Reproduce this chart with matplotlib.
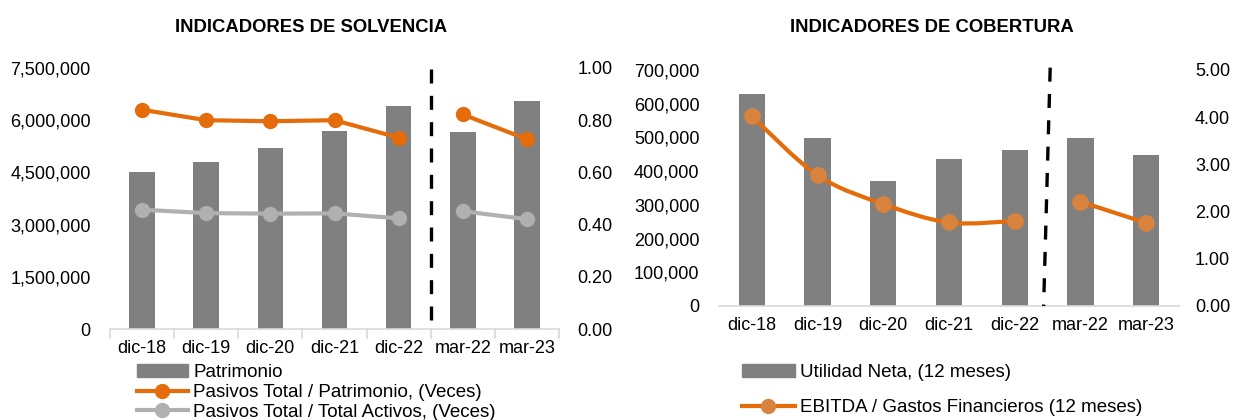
import matplotlib
matplotlib.use("Agg")
import matplotlib.pyplot as plt
import numpy as np
from matplotlib.path import Path
from matplotlib.patches import PathPatch
from matplotlib.lines import Line2D
from matplotlib.ticker import FuncFormatter

plt.rcParams['font.family'] = ['Liberation Sans', 'DejaVu Sans']

categories = ["dic-18", "dic-19", "dic-20", "dic-21", "dic-22", "mar-22", "mar-23"]

# Left chart: Solvencia
patrimonio = [4500000, 4800000, 5190000, 5690000, 6400000, 5670000, 6540000]
pasivos_patrimonio = [0.84, 0.80, 0.796, 0.80, 0.733, 0.822, 0.727]
pasivos_activos = [0.457, 0.444, 0.442, 0.443, 0.424, 0.451, 0.421]

# Right chart: Cobertura
utilidad_neta = [630000, 497000, 370000, 437000, 463000, 499000, 447000]
ebitda_gastos = [4.02, 2.77, 2.16, 1.77, 1.80, 2.21, 1.76]

left_ticks = [0, 1500000, 3000000, 4500000, 6000000, 7500000]
left_ticks2 = [0.0, 0.2, 0.4, 0.6, 0.8, 1.0]
right_ticks = [0, 100000, 200000, 300000, 400000, 500000, 600000, 700000]
right_ticks2 = [0.0, 1.0, 2.0, 3.0, 4.0, 5.0]

BAR = "#808080"
ORANGE = "#E46C0A"
LGRAY = "#B0B0B0"
MARK2 = "#D8843E"
AXC = "#D9D9D9"
FS = 13
LFS = 13.5
DASH = (0, (4.2, 3.7))

W, H = 1233, 420
fig = plt.figure(figsize=(W / 100, H / 100), dpi=100)


def ax_rect(x0, y0, x1, y1):
    return [x0 / W, 1 - y1 / H, (x1 - x0) / W, (y1 - y0) / H]


def style_axes(ax, ax2, pad2):
    for a in (ax, ax2):
        for s in a.spines.values():
            s.set_visible(False)
    ax.spines['bottom'].set_visible(True)
    ax.spines['bottom'].set_color(AXC)
    ax.spines['bottom'].set_linewidth(1.2)
    ax.tick_params(axis='y', length=0, labelsize=FS, pad=14)
    ax2.tick_params(axis='y', length=0, labelsize=FS, pad=pad2)
    ax.tick_params(axis='x', length=0, labelsize=FS, pad=8)


def smooth_path(xs, ys):
    pts = np.column_stack([xs, ys]).astype(float)
    n = len(pts)
    verts = [pts[0]]
    codes = [Path.MOVETO]
    for i in range(n - 1):
        p0 = pts[i - 1] if i > 0 else pts[i]
        p1 = pts[i]
        p2 = pts[i + 1]
        p3 = pts[i + 2] if i + 2 < n else pts[i + 1]
        c1 = p1 + (p2 - p0) / 6.0
        c2 = p2 - (p3 - p1) / 6.0
        verts += [c1, c2, p2]
        codes += [Path.CURVE4] * 3
    return Path(verts, codes)


x = np.arange(len(categories))

# ---------------- Left chart ----------------
ax = fig.add_axes(ax_rect(110, 68, 559, 329))
ax2 = ax.twinx()
ax.bar(x, patrimonio, width=0.4, color=BAR, zorder=2)
ax.set_xlim(-0.5, len(categories) - 0.5)
ax.set_ylim(0, 7500000)
ax.set_yticks(left_ticks)
ax.yaxis.set_major_formatter(FuncFormatter(lambda v, p: f"{int(v):,}"))
ax.set_xticks(x)
ax.set_xticklabels(categories)
for b in np.arange(-0.5, len(categories), 1.0):
    ax.plot([b, b], [0, -0.035], transform=ax.get_xaxis_transform(), color=AXC, lw=1.2, clip_on=False)
ax2.set_ylim(0, 1.0)
ax2.set_yticks(left_ticks2)
ax2.yaxis.set_major_formatter(FuncFormatter(lambda v, p: f"{v:.2f}"))
for seg in (slice(0, 5), slice(5, 7)):
    ax2.plot(x[seg], pasivos_patrimonio[seg], color=ORANGE, lw=3, marker='o', ms=10, zorder=3)
    ax2.plot(x[seg], pasivos_activos[seg], color=LGRAY, lw=3, marker='o', ms=10, zorder=3)
ax2.plot([4.5, 4.5], [0.995, 0.005], color='black', lw=2.4, linestyle=DASH, clip_on=False, zorder=4)
style_axes(ax, ax2, 13.5)
fig.text(311 / W, 1 - 27 / H, "INDICADORES DE SOLVENCIA", fontsize=13.3, fontweight='bold',
         ha='center', va='center')

handles_l = [
    plt.Rectangle((0, 0), 1, 1, color=BAR),
    Line2D([], [], color=ORANGE, lw=3, marker='o', ms=10),
    Line2D([], [], color=LGRAY, lw=3, marker='o', ms=10),
]
labels_l = ["Patrimonio", "Pasivos Total / Patrimonio, (Veces)", "Pasivos Total / Total Activos, (Veces)"]
fig.legend(handles_l, labels_l, loc='upper left', bbox_to_anchor=(137 / W, 1 - 364 / H),
           frameon=False, fontsize=LFS, handlelength=2.7, handletextpad=0.3,
           labelspacing=0.15, borderaxespad=0, borderpad=0)

# ---------------- Right chart ----------------
bx = fig.add_axes(ax_rect(719, 70, 1179, 306))
bx2 = bx.twinx()
bx.bar(x, utilidad_neta, width=0.4, color=BAR, zorder=2)
bx.set_xlim(-0.5, len(categories) - 0.5)
bx.set_ylim(0, 700000)
bx.set_yticks(right_ticks)
bx.yaxis.set_major_formatter(FuncFormatter(lambda v, p: f"{int(v):,}"))
bx.set_xticks(x)
bx.set_xticklabels(categories)
bx2.set_ylim(0, 5.0)
bx2.set_yticks(right_ticks2)
bx2.yaxis.set_major_formatter(FuncFormatter(lambda v, p: f"{v:.2f}"))
for seg in (slice(0, 5), slice(5, 7)):
    pth = smooth_path(x[seg], ebitda_gastos[seg])
    bx2.add_patch(PathPatch(pth, facecolor='none', edgecolor=ORANGE, lw=3, zorder=3, capstyle='round'))
    bx2.plot(x[seg], ebitda_gastos[seg], linestyle='none', marker='o', ms=11, color=MARK2, zorder=4)
bx2.plot([4.54, 4.44], [5.05, 0.0], color='black', lw=2.4, linestyle=DASH, clip_on=False, zorder=4)
style_axes(bx, bx2, 11.5)
fig.text(932 / W, 1 - 27 / H, "INDICADORES DE COBERTURA", fontsize=13.3, fontweight='bold',
         ha='center', va='center')

handles_r = [
    plt.Rectangle((0, 0), 1, 1, color=BAR),
    Line2D([], [], color=ORANGE, lw=3, marker='o', ms=10, markerfacecolor=MARK2, markeredgecolor=MARK2),
]
labels_r = ["Utilidad Neta, (12 meses)", "EBITDA / Gastos Financieros (12 meses)"]
fig.legend(handles_r, labels_r, loc='upper left', bbox_to_anchor=(742 / W, 1 - 364 / H),
           frameon=False, fontsize=LFS, handlelength=2.8, handletextpad=0.3,
           labelspacing=0.95, borderaxespad=0, borderpad=0)

fig.savefig("out.png", dpi=100)
